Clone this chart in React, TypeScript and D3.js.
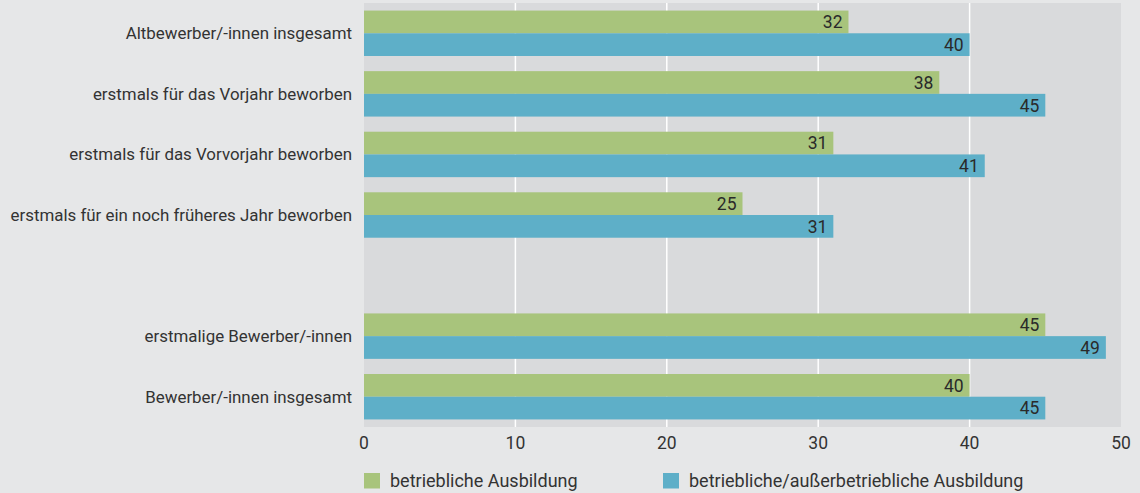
import React from "react";
import { scaleLinear, scaleBand } from "d3";

// categories (empty string = gap row)
const categories = [
  "Altbewerber/-innen insgesamt",
  "erstmals für das Vorjahr beworben",
  "erstmals für das Vorvorjahr beworben",
  "erstmals für ein noch früheres Jahr beworben",
  "",
  "erstmalige Bewerber/-innen",
  "Bewerber/-innen insgesamt",
];
const betrieblich = [32, 38, 31, 25, null, 45, 40];
const ausserbetrieblich = [40, 45, 41, 31, null, 49, 45];
const ticks = [0, 10, 20, 30, 40, 50];
const seriesNames = ["betriebliche Ausbildung", "betriebliche/außerbetriebliche Ausbildung"];
const colours = ["#a8c47c", "#5eafc8"];

const W = 1140;
const H = 493;
const left = 364;
const right = 1121;
const top = 3;
const bottom = 427;
const font = "Roboto, 'Open Sans', sans-serif";

const App = () => {
  const x = scaleLinear().domain([0, 50]).range([left, right]);
  const y = scaleBand<number>()
    .domain(categories.map((_, i) => i))
    .range([top, bottom])
    .paddingInner(0.25)
    .paddingOuter(0.125);
  const bh = y.bandwidth() / 2;
  const series = [betrieblich, ausserbetrieblich];

  return (
    <svg width={W} height={H} style={{ position: "absolute", left: 0, top: 0 }}>
      <rect width={W} height={H} fill="#e6e7e8" />
      <rect x={left} y={top} width={right - left} height={bottom - top} fill="#d9dadc" />
      {ticks.slice(1, -1).map((t) => (
        <line key={t} x1={x(t)} x2={x(t)} y1={top} y2={bottom} stroke="#fff" strokeWidth={1.5} />
      ))}
      {categories.map((c, i) => (
        <g key={i}>
          <text
            x={352}
            y={(y(i) as number) + bh}
            dy="0.35em"
            textAnchor="end"
            fontFamily={font}
            fontSize={16.9}
            fill="#333"
          >
            {c}
          </text>
          {series.map((s, k) => {
            const v = s[i];
            if (v == null) return null;
            const by = (y(i) as number) + k * bh;
            return (
              <g key={k}>
                <rect x={x(0)} y={by} width={x(v) - x(0)} height={bh} fill={colours[k]} />
                <text
                  x={x(v) - 6}
                  y={by + bh / 2}
                  dy="0.36em"
                  textAnchor="end"
                  fontFamily={font}
                  fontSize={17.5}
                  fill="#2a2a2a"
                >
                  {v}
                </text>
              </g>
            );
          })}
        </g>
      ))}
      {ticks.map((t) => (
        <text key={t} x={x(t)} y={443} dy="0.35em" textAnchor="middle" fontFamily={font} fontSize={17.5} fill="#333">
          {t}
        </text>
      ))}
      {seriesNames.map((n, k) => {
        const lx = k === 0 ? 364 : 663;
        return (
          <g key={n}>
            <rect x={lx} y={473} width={16} height={15.5} fill={colours[k]} />
            <text x={lx + 26} y={481} dy="0.35em" fontFamily={font} fontSize={18} fill="#333">
              {n}
            </text>
          </g>
        );
      })}
    </svg>
  );
};

export default App;
